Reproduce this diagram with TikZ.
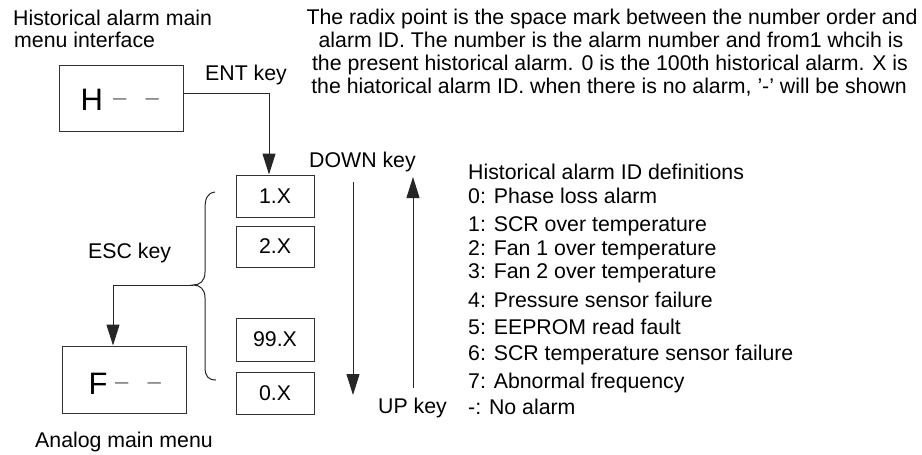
\documentclass[tikz,border=0pt]{standalone}
\usepackage{fontspec}
\setmainfont{Liberation Sans}
\usetikzlibrary{arrows.meta,calc}
\begin{document}
\begin{tikzpicture}[x=1pt,y=-1pt,
  lbl/.style={font=\fontsize{21.3}{23}\selectfont, inner sep=0pt, anchor=base west},
  ctr/.style={font=\fontsize{21.3}{23}\selectfont, inner sep=0pt, anchor=base},
  big/.style={font=\fontsize{31}{31}\selectfont, inner sep=0pt, anchor=base west},
  dashtxt/.style={font=\fontsize{24}{24}\selectfont, inner sep=0pt, anchor=base west, text=black!50},
  box/.style={draw=black!80, line width=1pt, inner sep=0pt, font=\fontsize{21.3}{23}\selectfont},
  conn/.style={draw=black!85, line width=1pt},
  arr/.style={conn, -{Triangle[length=21pt,width=13pt]}},
]
\useasboundingbox (0,0) rectangle (922,455);

% boxes
\node[box, minimum width=124pt, minimum height=66pt] (hbox) at (121,98) {};
\node[box, minimum width=124pt, minimum height=67pt] (fbox) at (124,379.5) {};
\node[box, minimum width=78pt, minimum height=42pt] (x1) at (275,196) {1.X};
\node[box, minimum width=78pt, minimum height=41pt] (x2) at (275,246.5) {2.X};
\node[box, minimum width=78pt, minimum height=43pt] (x99) at (275,339.5) {99.X};
\node[box, minimum width=78pt, minimum height=42pt] (x0) at (275,393) {0.X};

% display contents
\node[big] (hH) at (80.5,110) {H};
\node[dashtxt] (hd) at (113,105.5) {–\hspace{19pt}–};
\node[big] (fF) at (88.5,394) {F};
\node[dashtxt] (fd) at (115,389.5) {–\hspace{19pt}–};

% labels
\node[lbl] (t1) at (13,25) {Historical alarm main};
\node[lbl] (t2) at (14,47) {menu interface};
\node[lbl] (ent) at (205,80) {ENT key};
\node[lbl] (down) at (309,167) {DOWN key};
\node[lbl] (esc) at (88,258) {ESC key};
\node[lbl] (up) at (378,413) {UP key};
\node[lbl] (ana) at (35,447) {Analog main menu};

\node[ctr] (p1) at (612,24) {The radix point is the space mark between the number order and};
\node[ctr] (p2) at (611,47) {alarm ID. The number is the alarm number and from1 whcih is};
\node[ctr] (p3) at (610,70) {the present historical alarm. 0 is the 100th historical alarm. X is};
\node[ctr] (p4) at (609,93) {the hiatorical alarm ID. when there is no alarm, '-' will be shown};

\node[lbl] (d0) at (468,179) {Historical alarm ID definitions};
\node[lbl] (d1) at (468,203) {0: Phase loss alarm};
\node[lbl] (d2) at (468,231) {1: SCR over temperature};
\node[lbl] (d3) at (468,255) {2: Fan 1 over temperature};
\node[lbl] (d4) at (468,278) {3: Fan 2 over temperature};
\node[lbl] (d5) at (468,307) {4: Pressure sensor failure};
\node[lbl] (d6) at (468,334) {5: EEPROM read fault};
\node[lbl] (d7) at (468,360) {6: SCR temperature sensor failure};
\node[lbl] (d8) at (468,388) {7: Abnormal frequency};
\node[lbl] (d9) at (468,414) {-: No alarm};

% connectors
\draw[arr] ([yshift=5pt]hbox.east) -| ([xshift=-6pt]x1.north);

\coordinate (tip) at (193,285);
\draw[conn] (215,192) .. controls (207,193) and (205,199) .. (205,209) -- (205,272)
  .. controls (205,281) and (200,285) .. (tip)
  .. controls (200,285) and (205,289) .. (205,298) -- (205,367)
  .. controls (205,376) and (208,380) .. (216,380);
\draw[arr] (tip) -| ([xshift=-11pt]fbox.north);

\coordinate (dn1) at (353,182);
\coordinate (dn2) at (353,395);
\draw[arr] (dn1) -- (dn2);
\coordinate (up1) at (413,388);
\coordinate (up2) at (413,177);
\draw[arr] (up1) -- (up2);
\end{tikzpicture}
\end{document}
